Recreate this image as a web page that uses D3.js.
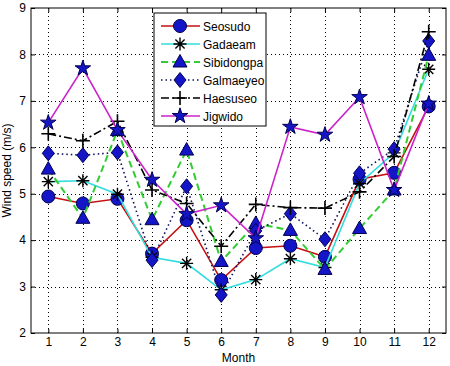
<!DOCTYPE html>
<html>
<head>
<meta charset="utf-8">
<script src="https://cdn.jsdelivr.net/npm/d3@7"></script>
<style>
  body { margin: 0; background: #fff; }
  text { font-family: "Liberation Sans", Arial, sans-serif; }
</style>
</head>
<body>
<svg id="chart"></svg>
<script>
// Data
const months = [1, 2, 3, 4, 5, 6, 7, 8, 9, 10, 11, 12];
const seosudo    = [4.94, 4.79, 4.89, 3.71, 4.43, 3.14, 3.83, 3.88, 3.64, 5.31, 5.45, 6.88];
const gadaeam    = [5.26, 5.28, 4.99, 3.63, 3.50, 2.93, 3.15, 3.60, 3.41, 5.22, 5.88, 7.68];
const sibidongpa = [5.53, 4.47, 6.36, 4.44, 5.94, 3.54, 4.36, 4.21, 3.37, 4.25, 5.08, 7.98];
const galmaeyeo  = [5.87, 5.83, 5.89, 3.57, 5.16, 2.82, 4.20, 4.57, 4.02, 5.44, 5.96, 8.29];
const haesuseo   = [6.29, 6.14, 6.56, 5.08, 4.79, 3.87, 4.77, 4.70, 4.69, 5.04, 5.80, 8.49];
const jigwido    = [6.53, 7.70, 6.37, 5.30, 4.56, 4.75, 4.04, 6.44, 6.27, 7.08, 5.08, 6.94];
const yTicks = [2, 3, 4, 5, 6, 7, 8, 9];

const markerFill = '#1515c8';
const markerEdge = '#000050';

const series = [
  { name: 'Seosudo',    values: seosudo,    color: '#c41010', dash: null,      width: 1.6, marker: 'circle' },
  { name: 'Gadaeam',    values: gadaeam,    color: '#33dddd', dash: null,      width: 1.6, marker: 'asterisk' },
  { name: 'Sibidongpa', values: sibidongpa, color: '#33cc33', dash: '7,4',     width: 2,   marker: 'triangle' },
  { name: 'Galmaeyeo',  values: galmaeyeo,  color: '#101060', dash: '1.5,3',   width: 1.6, marker: 'diamond' },
  { name: 'Haesuseo',   values: haesuseo,   color: '#000000', dash: '8,3,2,3', width: 1.6, marker: 'plus' },
  { name: 'Jigwido',    values: jigwido,    color: '#cc22cc', dash: null,      width: 1.6, marker: 'star' }
];

const W = 450, H = 366;
const margin = { left: 31, right: 4, top: 8, bottom: 33 };
const svg = d3.select('#chart').attr('width', W).attr('height', H);

const x = d3.scaleLinear().domain([0.5, 12.5]).range([margin.left, W - margin.right]);
const y = d3.scaleLinear().domain([2, 9]).range([H - margin.bottom, margin.top]);
const x0 = x.range()[0], x1 = x.range()[1], y0 = y.range()[0], y1 = y.range()[1];

// grid
const grid = svg.append('g').attr('stroke', '#000').attr('stroke-width', 1).attr('stroke-dasharray', '1,3');
grid.selectAll('.gx').data(months).enter().append('line')
  .attr('x1', d => Math.round(x(d)) + 0.5).attr('x2', d => Math.round(x(d)) + 0.5)
  .attr('y1', y1).attr('y2', y0);
grid.selectAll('.gy').data(yTicks.slice(1, -1)).enter().append('line')
  .attr('y1', d => Math.round(y(d)) + 0.5).attr('y2', d => Math.round(y(d)) + 0.5)
  .attr('x1', x0).attr('x2', x1);

// axes with inward ticks on all four sides
const axB = svg.append('g').attr('transform', `translate(0,${y0})`)
  .call(d3.axisBottom(x).tickValues(months).tickFormat(d3.format('d')).tickSizeInner(-4).tickSizeOuter(0).tickPadding(4));
const axT = svg.append('g').attr('transform', `translate(0,${y1})`)
  .call(d3.axisTop(x).tickValues(months).tickSizeInner(-4).tickSizeOuter(0).tickFormat(''));
const axL = svg.append('g').attr('transform', `translate(${x0},0)`)
  .call(d3.axisLeft(y).tickValues(yTicks).tickFormat(d3.format('d')).tickSizeInner(-4).tickSizeOuter(0).tickPadding(5));
const axR = svg.append('g').attr('transform', `translate(${x1},0)`)
  .call(d3.axisRight(y).tickValues(yTicks).tickSizeInner(-4).tickSizeOuter(0).tickFormat(''));
[axB, axT, axL, axR].forEach(a => {
  a.select('.domain').remove();
  a.selectAll('text').attr('font-size', 12).attr('fill', '#000')
    .style('font-family', '"Liberation Sans", Arial, sans-serif');
});
svg.append('rect').attr('x', x0).attr('y', y1).attr('width', x1 - x0).attr('height', y0 - y1)
  .attr('fill', 'none').attr('stroke', '#000').attr('stroke-width', 1);

// axis labels
svg.append('text').attr('x', x(6.5)).attr('y', 362).attr('text-anchor', 'middle')
  .attr('font-size', 12).text('Month');
svg.append('text').attr('transform', `translate(11,${(y0 + y1) / 2}) rotate(-90)`)
  .attr('text-anchor', 'middle').attr('font-size', 12).text('Wind speed (m/s)');

// marker drawing
function drawMarker(g, type) {
  if (type === 'circle') {
    g.append('circle').attr('r', 6.5).attr('fill', markerFill).attr('stroke', markerEdge);
  } else if (type === 'triangle') {
    g.append('path').attr('d', 'M0,-7.5L7,5L-7,5Z').attr('fill', markerFill).attr('stroke', markerEdge);
  } else if (type === 'diamond') {
    g.append('path').attr('d', 'M0,-7.5L6,0L0,7.5L-6,0Z').attr('fill', markerFill).attr('stroke', markerEdge);
  } else if (type === 'star') {
    g.append('path').attr('d', d3.symbol(d3.symbolStar, 75)()).attr('fill', markerFill).attr('stroke', markerEdge);
  } else if (type === 'plus') {
    g.append('path').attr('d', 'M-7,0H7M0,-7V7').attr('stroke', '#000').attr('stroke-width', 1.6);
  } else if (type === 'asterisk') {
    g.append('path').attr('d', 'M-6.5,0H6.5M0,-6.5V6.5M-4.6,-4.6L4.6,4.6M-4.6,4.6L4.6,-4.6')
      .attr('stroke', '#000').attr('stroke-width', 1.4);
  }
}

const line = d3.line().x((d, i) => x(months[i])).y(d => y(d));

series.forEach(s => {
  const g = svg.append('g');
  g.append('path').datum(s.values).attr('d', line)
    .attr('fill', 'none').attr('stroke', s.color).attr('stroke-width', s.width)
    .attr('stroke-dasharray', s.dash);
  g.selectAll('.m').data(s.values).enter().append('g')
    .attr('transform', (d, i) => `translate(${x(months[i])},${y(d)})`)
    .each(function () { drawMarker(d3.select(this), s.marker); });
});

// legend
const legend = svg.append('g').attr('transform', 'translate(154,13)');
legend.append('rect').attr('width', 112).attr('height', 113)
  .attr('fill', '#fff').attr('stroke', '#000').attr('stroke-width', 1);
series.forEach((s, i) => {
  const ly = 13 + i * 18;
  const row = legend.append('g').attr('transform', `translate(0,${ly})`);
  row.append('line').attr('x1', 7).attr('x2', 46).attr('y1', 0).attr('y2', 0)
    .attr('stroke', s.color).attr('stroke-width', s.width).attr('stroke-dasharray', s.dash);
  drawMarker(row.append('g').attr('transform', 'translate(26,0)'), s.marker);
  row.append('text').attr('x', 49).attr('y', 4.5).attr('font-size', 12).text(s.name);
});
</script>
</body>
</html>
